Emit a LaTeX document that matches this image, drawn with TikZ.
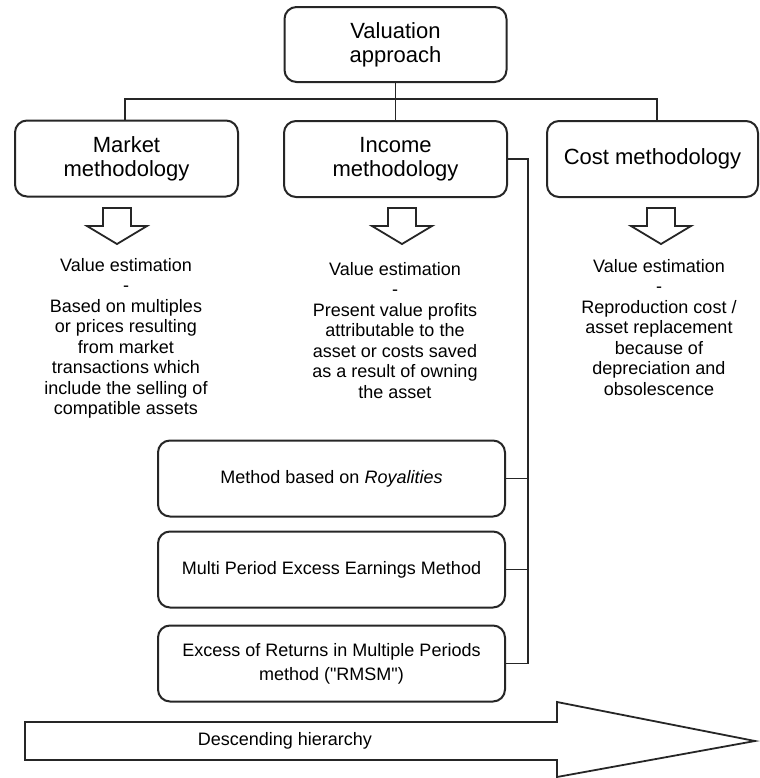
\documentclass[tikz,border=0pt]{standalone}
\usepackage{fontspec}
\setmainfont{Liberation Sans}[Ligatures=TeXOff]
\tikzset{
    box/.style={draw=black!85,line width=1pt,rounded corners=6pt,fill=white,align=center,inner sep=2pt},
    bigbox/.style={box,minimum height=38pt,font=\fontsize{11}{12}\selectfont},
    methodbox/.style={box,minimum width=173.5pt,minimum height=38pt,font=\fontsize{9}{12}\selectfont},
    link/.style={draw=black!85,line width=0.8pt},
    hollow/.style={draw=black!85,line width=0.9pt,fill=white},
    estim/.style={align=center,anchor=north,inner sep=0pt,font=\fontsize{9}{10.25}\selectfont},
}
\newcommand\HollowArrow[2]{%
    \draw[hollow] (#1,#2) ++(-14,0) -- ++(28,0) -- ++(0,18) -- ++(16,0)
        -- ++(-30,18) -- ++(-30,-18) -- ++(16,0) -- cycle;
}
\begin{document}
\begin{tikzpicture}[x=0.5pt,y=-0.5pt]
    \useasboundingbox (0,0) rectangle (760,778);
    % approach and methodologies
    \node[bigbox,minimum width=111pt,minimum height=37.5pt] (top) at (395.5,44.5) {Valuation\\approach};
    \node[bigbox,minimum width=111.5pt] (market) at (126.5,158.5) {Market\\methodology};
    \node[bigbox,minimum width=111.5pt] (income) at (395.5,159) {Income\\methodology};
    \node[bigbox,minimum width=105.5pt] (cost) at (652.5,159) {Cost methodology};
    \coordinate (busL) at (125,99);
    \coordinate (busR) at (657,99);
    \draw[link] (top) -- (income);
    \draw[link] (market.north -| busL) -- (busL) -- (busR) -- (cost.north -| busR);
    \HollowArrow{117}{208}
    \HollowArrow{402}{208}
    \HollowArrow{661}{208}
    \node[estim] (marketTxt) at (126,258) {Value estimation\\-\\Based on multiples\\or prices resulting\\from market\\transactions which\\include the selling of\\compatible assets};
    \node[estim] (incomeTxt) at (395,262) {Value estimation\\-\\Present value profits\\attributable to the\\asset or costs saved\\as a result of owning\\the asset};
    \node[estim] (costTxt) at (659,259) {Value estimation\\-\\Reproduction cost /\\asset replacement\\because of\\depreciation and\\obsolescence};
    % income methods
    \node[methodbox] (royal) at (331.5,478.5) {Method based on \textit{Royalities}};
    \node[methodbox] (mpeem) at (331.5,569.5) {Multi Period Excess Earnings Method};
    \node[methodbox] (rmsm) at (331.5,663.5) {Excess of Returns in Multiple Periods\\method ("RMSM")};
    \coordinate (trunk) at (528,159);
    \draw[link] (income.east) -- (trunk) -- (trunk |- rmsm.east) -- (rmsm.east);
    \draw[link] (royal.east) -- (royal.east -| trunk);
    \draw[link] (mpeem.east) -- (mpeem.east -| trunk);
    % hierarchy
    \draw[hollow] (25,722) -- (557,722) -- (557,702) -- (755,741) -- (557,777) -- (557,760) -- (25,760) -- cycle;
    \node[font=\fontsize{9}{10}\selectfont] (hier) at (285,741) {Descending hierarchy};
\end{tikzpicture}
\end{document}
